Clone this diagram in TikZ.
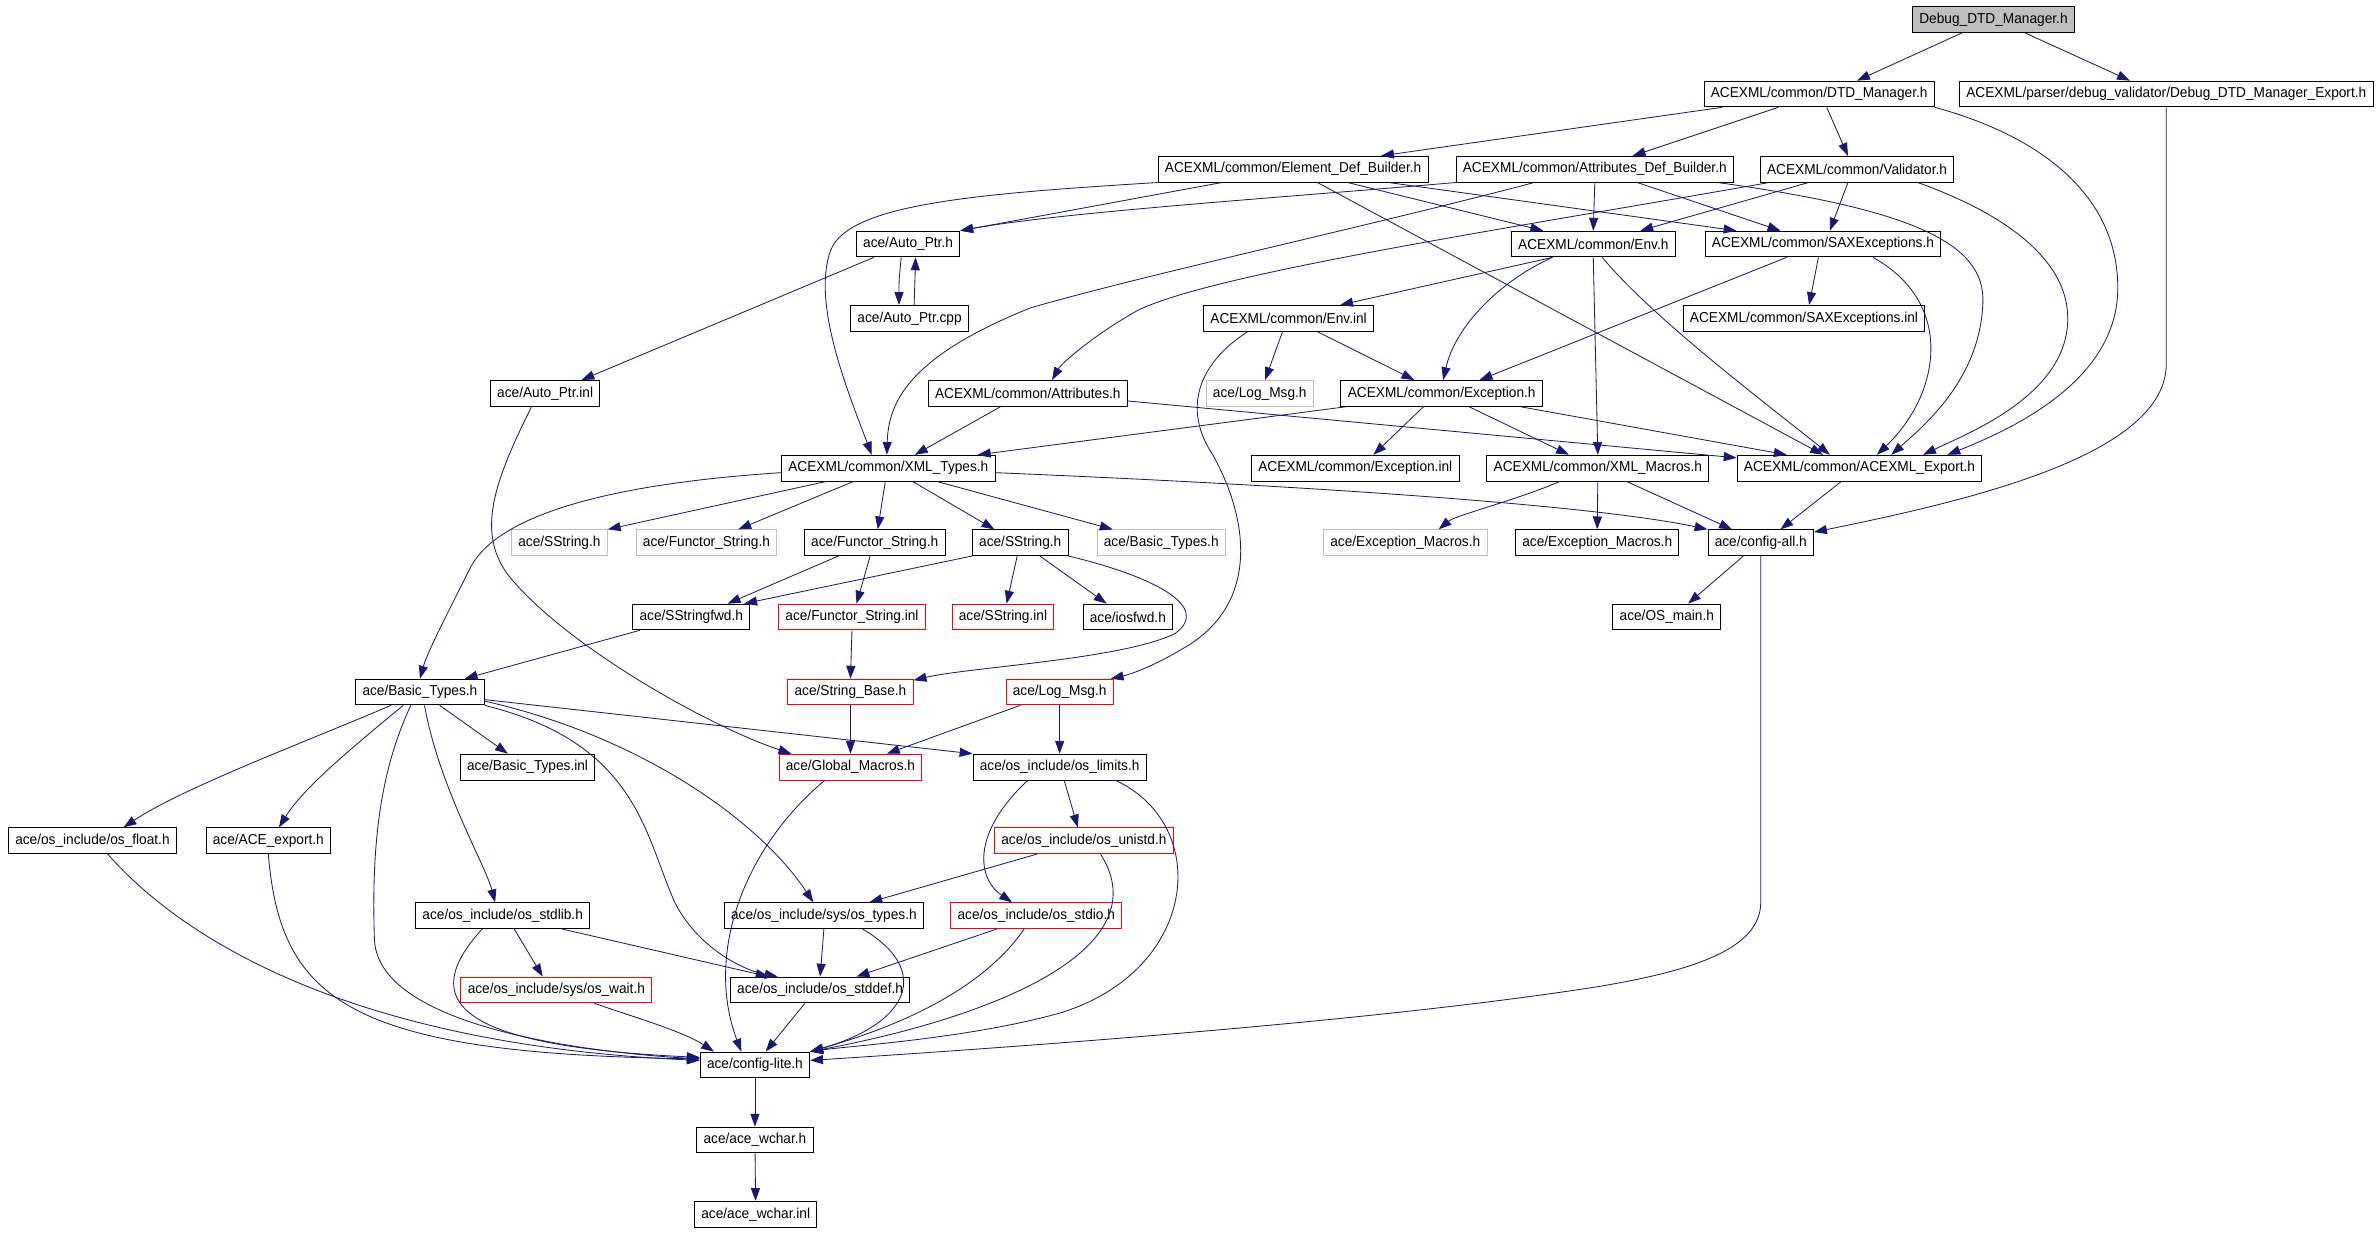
\documentclass[tikz,border=0pt]{standalone}
\usepackage{fontspec}
\setmainfont[FakeStretch=0.95]{Liberation Sans}
\usetikzlibrary{arrows.meta}
\definecolor{depblue}{HTML}{191970}
\definecolor{boxgray}{HTML}{BFBFBF}
\begin{document}
\begin{tikzpicture}[x=1pt,y=-1pt,
    hdr/.style={draw=black,line width=0.6pt,inner xsep=4.5pt,inner ysep=0pt,minimum height=17pt,font=\fontsize{9.5}{10}\selectfont},
    hdrgone/.style={hdr,draw=boxgray},
    hdrbad/.style={hdr,draw=red},
    hdrroot/.style={hdr,fill=boxgray},
    dep/.style={draw=depblue,line width=0.55pt,-{Triangle[length=8.5pt,width=6pt]}}]
\useasboundingbox (0,0) rectangle (1568,813);
\node[hdrroot] (dbg) at (1315,13) {Debug\_DTD\_Manager.h};
\node[hdr] (dtd) at (1200,62) {ACEXML/common/DTD\_Manager.h};
\node[hdr] (dbgexp) at (1429,62) {ACEXML/parser/debug\_validator/Debug\_DTD\_Manager\_Export.h};
\node[hdr] (elem) at (853,111.6) {ACEXML/common/Element\_Def\_Builder.h};
\node[hdr] (attrdef) at (1052,111.6) {ACEXML/common/Attributes\_Def\_Builder.h};
\node[hdr] (valid) at (1225,111.6) {ACEXML/common/Validator.h};
\node[hdr] (aptr) at (599,161) {ace/Auto\_Ptr.h};
\node[hdr] (env) at (1051,161) {ACEXML/common/Env.h};
\node[hdr] (sax) at (1202.5,161) {ACEXML/common/SAXExceptions.h};
\node[hdr] (aptrcpp) at (600,210) {ace/Auto\_Ptr.cpp};
\node[hdr] (envinl) at (850,210) {ACEXML/common/Env.inl};
\node[hdr] (saxinl) at (1190,210) {ACEXML/common/SAXExceptions.inl};
\node[hdr] (aptrinl) at (359.6,259.5) {ace/Auto\_Ptr.inl};
\node[hdr] (attrs) at (678,259.5) {ACEXML/common/Attributes.h};
\node[hdrgone] (logx) at (831,259.5) {ace/Log\_Msg.h};
\node[hdr] (exc) at (951,259.5) {ACEXML/common/Exception.h};
\node[hdr] (xmlt) at (586,308.8) {ACEXML/common/XML\_Types.h};
\node[hdr] (excinl) at (894,308.8) {ACEXML/common/Exception.inl};
\node[hdr] (xmlm) at (1054,308.8) {ACEXML/common/XML\_Macros.h};
\node[hdr] (xexp) at (1226.6,308.8) {ACEXML/common/ACEXML\_Export.h};
\node[hdrgone] (sstrx) at (369,358) {ace/SString.h};
\node[hdrgone] (functx) at (466,358) {ace/Functor\_String.h};
\node[hdr] (funct) at (577,358) {ace/Functor\_String.h};
\node[hdr] (sstr) at (673,358) {ace/SString.h};
\node[hdrgone] (btypx) at (766,358) {ace/Basic\_Types.h};
\node[hdrgone] (emacx) at (927,358) {ace/Exception\_Macros.h};
\node[hdr] (emac) at (1053.6,358) {ace/Exception\_Macros.h};
\node[hdr] (cfgall) at (1161.5,358) {ace/config-all.h};
\node[hdr] (sfwd) at (456,407) {ace/SStringfwd.h};
\node[hdrbad] (functinl) at (562,407) {ace/Functor\_String.inl};
\node[hdrbad] (sstrinl) at (661.6,407) {ace/SString.inl};
\node[hdr] (iosfwd) at (744,407) {ace/iosfwd.h};
\node[hdr] (osmain) at (1099.5,407) {ace/OS\_main.h};
\node[hdr] (btyp) at (277,456.5) {ace/Basic\_Types.h};
\node[hdrbad] (strbase) at (561,456.5) {ace/String\_Base.h};
\node[hdrbad] (logmsg) at (699,456.5) {ace/Log\_Msg.h};
\node[hdr] (btypinl) at (348,506) {ace/Basic\_Types.inl};
\node[hdrbad] (gmac) at (561,506) {ace/Global\_Macros.h};
\node[hdr] (limits) at (699,506) {ace/os\_include/os\_limits.h};
\node[hdr] (osfloat) at (61,554.6) {ace/os\_include/os\_float.h};
\node[hdr] (aceexp) at (177,554.6) {ace/ACE\_export.h};
\node[hdrbad] (unistd) at (715,554.6) {ace/os\_include/os\_unistd.h};
\node[hdr] (stdlib) at (331.6,604) {ace/os\_include/os\_stdlib.h};
\node[hdr] (systypes) at (543.5,604) {ace/os\_include/sys/os\_types.h};
\node[hdrbad] (stdio) at (683.6,604) {ace/os\_include/os\_stdio.h};
\node[hdrbad] (wait) at (367,653) {ace/os\_include/sys/os\_wait.h};
\node[hdr] (stddef) at (541,653) {ace/os\_include/os\_stddef.h};
\node[hdr] (lite) at (498,702.5) {ace/config-lite.h};
\node[hdr] (wchar) at (498,752) {ace/ace\_wchar.h};
\node[hdr] (wcharinl) at (498.5,801) {ace/ace\_wchar.inl};
% ACEXML headers
\draw[dep] ([xshift=-21]dbg.south) -- ([xshift=25]dtd.north);
\draw[dep] ([xshift=21]dbg.south) -- ([xshift=-24]dbgexp.north);
\draw[dep] ([xshift=-64]dtd.south) -- ([xshift=58]elem.north);
\draw[dep] ([xshift=-27]dtd.south) -- ([xshift=25]attrdef.north);
\draw[dep] ([xshift=5]dtd.south) -- ([xshift=-6]valid.north);
\draw[dep] (dtd.south east) .. controls (1340,88) and (1397,125) .. (1397,190) .. controls (1397,250) and (1330,282) .. ([xshift=58]xexp.north);
\draw[dep] (dbgexp.south) -- (1429,240) .. controls (1429,300) and (1300,330) .. ([yshift=7]cfgall.east);
\draw[dep] (elem.south west) .. controls (640,128) and (560,135) .. (548,165) .. controls (535,200) and (560,260) .. ([xshift=-11]xmlt.north);
\draw[dep] ([xshift=-47]elem.south) -- (aptr.north east);
\draw[dep] ([xshift=36]elem.south) -- ([xshift=-33]env.north);
\draw[dep] ([xshift=63]elem.south) -- ([xshift=-57]sax.north);
\draw[dep] ([xshift=16]elem.south) -- ([xshift=-24]xexp.north);
\draw[dep] (attrdef.south west) .. controls (850,130) and (700,140) .. (aptr.north east);
\draw[dep] ([xshift=-40]attrdef.south) .. controls (900,150) and (760,180) .. (680,203) .. controls (600,235) and (586,265) .. ([xshift=-1]xmlt.north);
\draw[dep] (attrdef.south) -- (env.north);
\draw[dep] ([xshift=28]attrdef.south) -- ([xshift=-28]sax.north);
\draw[dep] ([xshift=81]attrdef.south) .. controls (1260,138) and (1310,160) .. (1308,200) .. controls (1306,250) and (1270,280) .. ([xshift=21]xexp.north);
\draw[dep] ([xshift=-32]valid.south) -- ([xshift=31]env.north);
\draw[dep] ([xshift=-6]valid.south) -- ([xshift=4.5]sax.north);
\draw[dep] ([xshift=-58]valid.south) .. controls (1000,150) and (800,180) .. (750,205) .. controls (720,222) and (700,240) .. ([xshift=16]attrs.north);
\draw[dep] ([xshift=40]valid.south) .. controls (1320,140) and (1364,170) .. (1364,210) .. controls (1364,260) and (1300,285) .. ([xshift=42]xexp.north);
\draw[dep] ([xshift=-4.5]aptr.south) .. controls (593,185) .. ([xshift=-7]aptrcpp.north);
\draw[dep] ([xshift=3]aptrcpp.north) -- ([xshift=5]aptr.south);
\draw[dep] ([xshift=-22.6]aptr.south) -- ([xshift=24]aptrinl.north);
\draw[dep] ([xshift=-9]aptrinl.south) .. controls (325,320) and (312,355) .. (340,385) .. controls (380,430) and (470,480) .. ([xshift=-39]gmac.north);
\draw[dep] ([xshift=-27]env.south) -- ([xshift=34]envinl.north);
\draw[dep] ([xshift=-27]env.south) .. controls (990,185) and (960,215) .. ([xshift=1]exc.north);
\draw[dep] (env.south) -- (xmlm.north);
\draw[dep] ([xshift=6]env.south) .. controls (1090,210) and (1170,270) .. ([xshift=-19.5]xexp.north);
\draw[dep] ([xshift=-24]sax.south) -- ([xshift=25]exc.north);
\draw[dep] ([xshift=-3]sax.south) -- ([xshift=3.4]saxinl.north);
\draw[dep] ([xshift=33]sax.south) .. controls (1290,200) and (1280,260) .. ([xshift=11.5]xexp.north);
\draw[dep] ([xshift=-4]envinl.south) -- ([xshift=3.5]logx.north);
\draw[dep] ([xshift=19]envinl.south) -- ([xshift=-18]exc.north);
\draw[dep] ([xshift=-27]envinl.south) .. controls (790,240) and (780,270) .. (800,300) .. controls (825,345) and (830,400) .. (780,428) .. controls (760,440) and (745,445) .. ([xshift=-2]logmsg.north east);
\draw[dep] ([xshift=-18]attrs.south) -- ([xshift=17.5]xmlt.north);
\draw[dep] ([yshift=-5]attrs.east) -- ([yshift=-2]xexp.north west);
\draw[dep] ([xshift=-63]exc.south) -- ([xshift=59]xmlt.north);
\draw[dep] ([xshift=-12]exc.south) -- ([xshift=12]excinl.north);
\draw[dep] ([xshift=18]exc.south) -- ([xshift=-19]xmlm.north);
\draw[dep] ([xshift=52]exc.south) -- ([xshift=-48]xexp.north);
% XML_Types and macros
\draw[dep] ([xshift=-41]xmlt.south) -- (sstrx.north east);
\draw[dep] ([xshift=-23]xmlt.south) -- ([xshift=21]functx.north);
\draw[dep] ([xshift=-2]xmlt.south) -- ([xshift=2]funct.north);
\draw[dep] ([xshift=16]xmlt.south) -- ([xshift=-17]sstr.north);
\draw[dep] ([xshift=32]xmlt.south) -- ([xshift=-32]btypx.north);
\draw[dep] ([yshift=-3]xmlt.west) .. controls (420,318) and (330,335) .. (310,375) .. controls (295,405) and (282,430) .. (btyp.north);
\draw[dep] ([yshift=-3]xmlt.east) .. controls (900,322) and (1060,335) .. (cfgall.north west);
\draw[dep] ([xshift=-25]xmlm.south) .. controls (1000,330) and (960,340) .. ([xshift=22]emacx.north);
\draw[dep] (xmlm.south) -- (emac.north);
\draw[dep] ([xshift=19]xmlm.south) -- ([xshift=-19]cfgall.north);
\draw[dep] ([xshift=-12]xexp.south) -- ([xshift=13]cfgall.north);
\draw[dep] ([xshift=-11.5]cfgall.south) -- ([xshift=14]osmain.north);
\draw[dep] (cfgall.south) -- (1161.5,595) .. controls (1161.5,625) and (1120,640) .. (1053,651) .. controls (900,675) and (650,692) .. ([yshift=3]lite.east);
% ace headers
\draw[dep] ([xshift=-24]funct.south) -- ([xshift=24]sfwd.north);
\draw[dep] ([xshift=-3]funct.south) -- ([xshift=3]functinl.north);
\draw[dep] (sstr.south west) -- ([xshift=-4]sfwd.north east);
\draw[dep] ([xshift=-2]sstr.south) -- ([xshift=2.4]sstrinl.north);
\draw[dep] ([xshift=13]sstr.south) -- ([xshift=-14]iosfwd.north);
\draw[dep] (sstr.south east) .. controls (760,380) and (800,400) .. (775,418) .. controls (740,435) and (640,440) .. ([yshift=-1]strbase.north east);
\draw[dep] ([xshift=-34]sfwd.south) -- ([xshift=29.5]btyp.north);
\draw[dep] (functinl.south) -- (strbase.north);
\draw[dep] (strbase.south) -- (gmac.north);
\draw[dep] ([xshift=-26]logmsg.south) -- ([xshift=24]gmac.north);
\draw[dep] (logmsg.south) -- (limits.north);
\draw[dep] ([xshift=13]btyp.south) -- ([xshift=-13]btypinl.north);
\draw[dep] ([yshift=-5]btyp.east) -- (limits.north west);
\draw[dep] ([xshift=-19]btyp.south) .. controls (200,490) and (120,520) .. ([xshift=20.5]osfloat.north);
\draw[dep] ([xshift=-11]btyp.south) .. controls (230,495) and (200,520) .. ([xshift=7]aceexp.north);
\draw[dep] ([xshift=-6]btyp.south) .. controls (250,510) and (245,560) .. (247,620) .. controls (250,680) and (400,695) .. ([yshift=4]lite.west);
\draw[dep] ([xshift=3]btyp.south) .. controls (290,520) and (320,570) .. ([xshift=-5]stdlib.north);
\draw[dep] ([yshift=-6]btyp.east) .. controls (420,485) and (500,540) .. ([xshift=-7]systypes.north);
\draw[dep] (btyp.south east) .. controls (420,490) and (425,550) .. (445,595) .. controls (460,625) and (490,640) .. ([xshift=-28]stddef.north);
\draw[dep] ([xshift=-17]gmac.south) .. controls (490,560) and (465,630) .. ([xshift=-9]lite.north);
\draw[dep] ([xshift=3]limits.south) -- ([xshift=-4]unistd.north);
\draw[dep] ([xshift=-21]limits.south) .. controls (640,550) and (645,580) .. ([xshift=-16]stdio.north);
\draw[dep] ([xshift=37]limits.south) .. controls (800,545) and (790,640) .. (700,668) .. controls (640,685) and (560,690) .. (lite.north east);
\draw[dep] ([xshift=10]osfloat.south) .. controls (130,630) and (250,690) .. ([yshift=3]lite.west);
\draw[dep] (aceexp.south) .. controls (185,660) and (230,695) .. ([yshift=4]lite.west);
\draw[dep] ([xshift=-31]unistd.south) -- ([xshift=30]systypes.north);
\draw[dep] ([xshift=11]unistd.south) .. controls (765,625) and (660,670) .. (lite.north east);
\draw[dep] ([xshift=7.6]stdlib.south) -- ([xshift=-9]wait.north);
\draw[dep] ([xshift=39]stdlib.south) -- ([xshift=-34]stddef.north);
\draw[dep] ([xshift=-13.5]stdlib.south) .. controls (275,660) and (300,690) .. ([yshift=5]lite.west);
\draw[dep] (systypes.south) -- (stddef.north);
\draw[dep] ([xshift=25.5]systypes.south) .. controls (615,640) and (600,675) .. (lite.north east);
\draw[dep] ([xshift=-26]stdio.south) -- ([xshift=24]stddef.north);
\draw[dep] ([xshift=-8]stdio.south) .. controls (650,650) and (600,675) .. (lite.north east);
\draw[dep] ([xshift=25]wait.south) .. controls (415,670) and (450,680) .. ([xshift=-27]lite.north);
\draw[dep] ([xshift=-10]stddef.south) -- ([xshift=7]lite.north);
\draw[dep] (lite) -- (wchar);
\draw[dep] (wchar) -- (wcharinl);
\end{tikzpicture}
\end{document}
